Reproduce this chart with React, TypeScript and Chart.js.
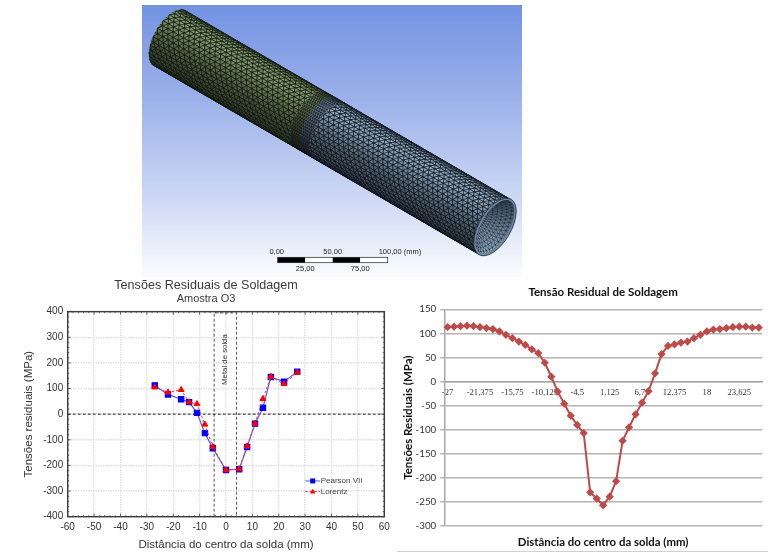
import React, { useEffect, useRef } from "react";
import { Chart, registerables } from "chart.js";

Chart.register(...registerables);

const leftTitle = "Tensões Residuais de Soldagem";
const leftSubtitle = "Amostra O3";
const leftXTitle = "Distância do centro da solda (mm)";
const leftYTitle = "Tensões residuais (MPa)";
const leftDistances = [-27, -22, -17, -14, -11, -8, -5, 0, 5, 8, 11, 14, 17, 22, 27];
const pearsonValues = [112, 77, 58, 47, 5, -74, -133, -218, -215, -128, -37, 25, 145, 127, 166];
const lorentzValues = [105, 85, 95, 47, 40, -40, -127, -218, -214, -125, -36, 60, 146, 118, 163];
const zeroLineX = [-60, 60];
const zeroLineY = [0, 0];
const metalBoxX = [-4.5, -4.5, 4, 4];
const metalBoxY = [-400, 395, 395, -400];
const metalLabel = "Metal de solda";

const rightTitle = "Tensão Residual de Soldagem";
const rightXTitle = "Distância do centro da solda (mm)";
const rightYTitle = "Tensões Residuais (MPa)";
const rightCategories = [
  "-27", "-25,875", "-24,75", "-23,625", "-22,5", "-21,375", "-20,25", "-19,125", "-18", "-16,875",
  "-15,75", "-14,625", "-13,5", "-12,375", "-11,25", "-10,125", "-9", "-7,875", "-6,75", "-5,625",
  "-4,5", "-3,375", "-2,25", "-1,125", "0", "1,125", "2,25", "3,375", "4,5", "5,625",
  "6,75", "7,875", "9", "10,125", "11,25", "12,375", "13,5", "14,625", "15,75", "16,875",
  "18", "19,125", "20,25", "21,375", "22,5", "23,625", "24,75", "25,875", "27",
];
const rightValues = [
  113, 114, 115, 116, 115, 113, 111, 109, 104, 97,
  90, 83, 76, 67, 59, 39, 10, -21, -46, -71,
  -90, -107, -230, -243, -257, -239, -207, -123, -95, -68,
  -44, -20, 17, 57, 74, 77, 81, 83, 90, 97,
  104, 108, 109, 111, 113, 114, 114, 112, 112,
];

const SANS = "'Liberation Sans', Arial, sans-serif";
const CAL = "Lato, 'Open Sans', sans-serif";

const leftDecor = {
  id: "leftDecor",
  afterDatasetsDraw(chart: any) {
    const { ctx, chartArea: a, scales } = chart;
    ctx.save();
    ctx.strokeStyle = "#3c3c3c";
    ctx.lineWidth = 1.4;
    ctx.strokeRect(a.left, a.top, a.right - a.left, a.bottom - a.top);
    ctx.lineWidth = 0.8;
    ctx.beginPath();
    for (let v = -60; v <= 60; v += 2) {
      const x = scales.x.getPixelForValue(v);
      const l = v % 10 === 0 ? 3 : 1.5;
      ctx.moveTo(x, a.bottom); ctx.lineTo(x, a.bottom - l);
      ctx.moveTo(x, a.top); ctx.lineTo(x, a.top + l);
    }
    for (let v = -400; v <= 400; v += 20) {
      const y = scales.y.getPixelForValue(v);
      const l = v % 100 === 0 ? 3 : 1.5;
      ctx.moveTo(a.left, y); ctx.lineTo(a.left + l, y);
      ctx.moveTo(a.right, y); ctx.lineTo(a.right - l, y);
    }
    ctx.stroke();

    ctx.fillStyle = "#333";
    ctx.font = `7.8px ${SANS}`;
    ctx.textAlign = "center";
    ctx.textBaseline = "middle";
    ctx.translate(scales.x.getPixelForValue(-0.3), scales.y.getPixelForValue(213));
    ctx.rotate(-Math.PI / 2);
    ctx.fillText(metalLabel, 0, 0);
    ctx.restore();

    ctx.save();
    const lx = a.left + 237.5;
    const rows = [
      { i: 1, y: a.top + 169.3 },
      { i: 0, y: a.top + 179.8 },
    ];
    for (const r of rows) {
      const ds = chart.data.datasets[r.i];
      ctx.strokeStyle = ds.borderColor;
      ctx.lineWidth = 1;
      ctx.setLineDash(ds.borderDash || []);
      ctx.beginPath();
      ctx.moveTo(lx, r.y);
      ctx.lineTo(lx + 15, r.y);
      ctx.stroke();
      ctx.setLineDash([]);
      ctx.fillStyle = ds.pointBackgroundColor;
      ctx.beginPath();
      if (ds.pointStyle === "rect") {
        ctx.rect(lx + 5, r.y - 2.5, 5, 5);
      } else {
        ctx.moveTo(lx + 7.5, r.y - 2.6);
        ctx.lineTo(lx + 10.2, r.y + 2);
        ctx.lineTo(lx + 4.8, r.y + 2);
        ctx.closePath();
      }
      ctx.fill();
      ctx.fillStyle = "#444";
      ctx.font = `8px ${SANS}`;
      ctx.textAlign = "left";
      ctx.textBaseline = "middle";
      ctx.fillText(ds.label, lx + 15.5, r.y);
    }
    ctx.restore();
  },
};

function drawMesh(canvas: HTMLCanvasElement) {
  const ctx = canvas.getContext("2d")!;
  const W = canvas.width;
  const H = canvas.height;
  const ox = 142;
  const oy = 5;
  const bg = ctx.createLinearGradient(0, 0, 0, H);
  bg.addColorStop(0, "#7292e2");
  bg.addColorStop(0.35, "#9db2ea");
  bg.addColorStop(0.7, "#ccd7f4");
  bg.addColorStop(1, "#fbfcfe");
  ctx.fillStyle = bg;
  ctx.fillRect(0, 0, W, H);

  const c0 = { x: 170 - ox, y: 38.3 - oy };
  const c1 = { x: 495 - ox, y: 227 - oy };
  const dx = c1.x - c0.x;
  const dy = c1.y - c0.y;
  const L = Math.hypot(dx, dy);
  const a = { x: dx / L, y: dy / L };
  const n = { x: a.y, y: -a.x };
  const R = 32;
  const m = 16;
  const P = (u: number, th: number) => ({
    x: c0.x + dx * u + n.x * R * Math.cos(th) - a.x * m * Math.sin(th),
    y: c0.y + dy * u + n.y * R * Math.cos(th) - a.y * m * Math.sin(th),
  });
  const shade = (th: number, base: number[]) => {
    const t = th / Math.PI;
    const s = 0.38 + 0.58 * Math.exp(-Math.pow((t - 0.25) / 0.3, 2));
    return `rgb(${base.map((b) => Math.round(Math.min(255, b * s))).join(",")})`;
  };
  const green = [140, 166, 116];
  const blue = [156, 184, 208];
  const junction = 0.465;
  const drawBand = (u0: number, u1: number, nu: number, nth: number, base: number[], line: string, lw: number) => {
    ctx.save();
    ctx.beginPath();
    for (let k = 0; k <= 40; k++) {
      const p = P(u0, (k / 40) * Math.PI);
      if (k === 0) ctx.moveTo(p.x, p.y); else ctx.lineTo(p.x, p.y);
    }
    for (let k = 40; k >= 0; k--) {
      const p = P(u1, (k / 40) * Math.PI);
      ctx.lineTo(p.x, p.y);
    }
    ctx.closePath();
    ctx.clip();
    const du = (u1 - u0) / nu;
    const dth = Math.PI / nth;
    ctx.strokeStyle = line;
    ctx.lineWidth = lw;
    for (let i = -1; i <= nu; i++) {
      for (let j = 0; j < nth; j++) {
        const sA = j % 2 === 0 ? 0 : du / 2;
        const sB = j % 2 === 0 ? du / 2 : 0;
        const th0 = j * dth;
        const th1 = (j + 1) * dth;
        const ua = u0 + i * du;
        const p00 = P(ua + sA, th0);
        const p10 = P(ua + du + sA, th0);
        const p01 = P(ua + sB, th1);
        const p11 = P(ua + du + sB, th1);
        ctx.fillStyle = shade((th0 + th1) / 2, base);
        ctx.beginPath();
        ctx.moveTo(p00.x, p00.y);
        ctx.lineTo(p10.x, p10.y);
        ctx.lineTo(p11.x, p11.y);
        ctx.lineTo(p01.x, p01.y);
        ctx.closePath();
        ctx.fill();
        ctx.stroke();
        const from = j % 2 === 0 ? p10 : p00;
        const to = j % 2 === 0 ? p01 : p11;
        ctx.beginPath();
        ctx.moveTo(from.x, from.y);
        ctx.lineTo(to.x, to.y);
        ctx.stroke();
      }
    }
    ctx.restore();
  };

  drawBand(0, junction - 0.03, 27, 21, green, "rgba(12,18,10,0.88)", 0.8);
  drawBand(junction + 0.03, 1, 33, 21, blue, "rgba(8,14,22,0.88)", 0.8);
  drawBand(junction - 0.03, junction, 5, 34, green, "rgba(12,16,10,0.85)", 0.6);
  drawBand(junction, junction + 0.03, 5, 34, blue, "rgba(8,12,18,0.85)", 0.6);

  // open end of the tube
  const rot = Math.atan2(n.y, n.x);
  ctx.fillStyle = "#6e8aa3";
  ctx.beginPath();
  ctx.ellipse(c1.x, c1.y, R, m, rot, 0, Math.PI * 2);
  ctx.fill();
  ctx.save();
  ctx.beginPath();
  ctx.ellipse(c1.x, c1.y, R - 2, m - 2, rot, 0, Math.PI * 2);
  ctx.clip();
  const ig = ctx.createLinearGradient(c1.x + n.x * R, c1.y + n.y * R, c1.x - n.x * R, c1.y - n.y * R);
  ig.addColorStop(0, "#3c4f60");
  ig.addColorStop(1, "#9db8d0");
  ctx.fillStyle = ig;
  ctx.fillRect(0, 0, W, H);
  ctx.strokeStyle = "rgba(12,18,28,0.75)";
  ctx.lineWidth = 0.55;
  const rings = 8;
  const spokes = 40;
  const inner = (k: number, s: number) => {
    const th = (s / spokes) * Math.PI * 2;
    const f = 1 - k * 0.09;
    const shift = k * 3.2;
    return {
      x: c1.x + n.x * R * f * Math.cos(th) - a.x * m * f * Math.sin(th) - a.x * shift,
      y: c1.y + n.y * R * f * Math.cos(th) - a.y * m * f * Math.sin(th) - a.y * shift,
    };
  };
  for (let k = 0; k < rings; k++) {
    for (let s = 0; s < spokes; s++) {
      const q = k % 2 === 0 ? s : s + 0.5;
      const p1 = inner(k, q);
      const p2 = inner(k, q + 1);
      const p3 = inner(k + 1, q + 0.5);
      ctx.beginPath();
      ctx.moveTo(p1.x, p1.y);
      ctx.lineTo(p2.x, p2.y);
      ctx.lineTo(p3.x, p3.y);
      ctx.closePath();
      ctx.stroke();
    }
  }
  ctx.restore();
  ctx.strokeStyle = "rgba(20,30,44,0.85)";
  ctx.lineWidth = 0.9;
  ctx.beginPath();
  ctx.ellipse(c1.x, c1.y, R, m, rot, 0, Math.PI * 2);
  ctx.stroke();

  // scale bar
  const bx = 277.7 - ox;
  const by = 257.3 - oy;
  const seg = 27.5;
  for (let i = 0; i < 4; i++) {
    ctx.fillStyle = i % 2 === 0 ? "#000" : "#fff";
    ctx.fillRect(bx + i * seg, by, seg, 5.4);
  }
  ctx.strokeStyle = "#222";
  ctx.lineWidth = 0.7;
  ctx.strokeRect(bx, by, seg * 4, 5.4);
  ctx.fillStyle = "#222";
  ctx.font = `7.5px ${SANS}`;
  ctx.textBaseline = "middle";
  ctx.textAlign = "center";
  ctx.fillText("0,00", bx - 1, by - 5);
  ctx.fillText("50,00", bx + seg * 2, by - 5);
  ctx.fillText("25,00", bx + seg, by + 12);
  ctx.fillText("75,00", bx + seg * 3, by + 12);
  ctx.textAlign = "left";
  ctx.fillText("100,00 (mm)", bx + seg * 4 - 9, by - 5);
}

export default function App() {
  const meshRef = useRef<HTMLCanvasElement>(null);
  const leftRef = useRef<HTMLCanvasElement>(null);
  const rightRef = useRef<HTMLCanvasElement>(null);

  useEffect(() => {
    drawMesh(meshRef.current!);

    const left = new Chart(leftRef.current!, {
      type: "line",
      data: {
        datasets: [
          {
            label: "Lorentz",
            data: leftDistances.map((x, i) => ({ x, y: lorentzValues[i] })),
            borderColor: "#ff3030",
            borderWidth: 1,
            borderDash: [2.5, 2],
            pointStyle: "triangle",
            pointRadius: 3.4,
            pointBackgroundColor: "#ff0000",
            pointBorderColor: "#ff0000",
            tension: 0,
            order: 0,
          },
          {
            label: "Pearson VII",
            data: leftDistances.map((x, i) => ({ x, y: pearsonValues[i] })),
            borderColor: "#5a5aff",
            borderWidth: 1.2,
            pointStyle: "rect",
            pointRadius: 3.7,
            pointBackgroundColor: "#0000ff",
            pointBorderColor: "#0000ff",
            tension: 0,
            order: 1,
          },
          {
            label: "zero",
            data: zeroLineX.map((x, i) => ({ x, y: zeroLineY[i] })),
            borderColor: "#222",
            borderWidth: 1,
            borderDash: [3, 2],
            pointRadius: 0,
            order: 2,
          },
          {
            label: "metal",
            data: metalBoxX.map((x, i) => ({ x, y: metalBoxY[i] })),
            borderColor: "#555",
            borderWidth: 1,
            borderDash: [3, 2],
            pointRadius: 0,
            tension: 0,
            order: 3,
          },
        ],
      },
      options: {
        animation: false,
        responsive: false,
        layout: { padding: 0 },
        plugins: {
          legend: { display: false },
          tooltip: { enabled: false },
          title: {
            display: true,
            text: leftTitle,
            color: "#3a3a3a",
            font: { family: SANS, size: 12.6, weight: "normal", lineHeight: 1.15 },
            padding: { top: 8, bottom: 0 },
          },
          subtitle: {
            display: true,
            text: leftSubtitle,
            color: "#3a3a3a",
            font: { family: SANS, size: 11, weight: "normal", lineHeight: 1.15 },
            padding: { top: 0, bottom: 6.5 },
          },
        },
        scales: {
          x: {
            type: "linear",
            min: -60,
            max: 60,
            afterFit: (s: any) => { s.height = 43.3; },
            ticks: { stepSize: 10, color: "#333", font: { family: SANS, size: 10 }, padding: 4.5, maxRotation: 0, autoSkip: false },
            grid: { color: "#e0e0e0", lineWidth: 1.4, tickLength: 0 },
            border: { dash: [1.5, 1], display: false },
            title: { display: true, text: leftXTitle, color: "#333", font: { family: SANS, size: 11.5 }, padding: { top: 0, bottom: 8 } },
          },
          y: {
            type: "linear",
            min: -400,
            max: 400,
            afterFit: (s: any) => { s.width = 67.7; },
            ticks: { stepSize: 100, color: "#333", font: { family: SANS, size: 10 }, padding: 4.5 },
            grid: { color: "#e0e0e0", lineWidth: 1.4, tickLength: 0 },
            border: { dash: [1.5, 1], display: false },
            title: { display: true, text: leftYTitle, color: "#333", font: { family: SANS, size: 11.5 }, padding: { top: 22, bottom: 0 } },
          },
          rightGap: {
            type: "linear",
            position: "right",
            display: true,
            afterFit: (s: any) => { s.width = 27.7; },
            ticks: { display: false },
            grid: { display: false },
            border: { display: false },
          },
        },
      } as any,
      plugins: [leftDecor],
    });

    const right = new Chart(rightRef.current!, {
      type: "line",
      data: {
        labels: rightCategories,
        datasets: [
          {
            label: "Tensão",
            data: rightValues,
            borderColor: "#be4b48",
            borderWidth: 2,
            pointStyle: "rectRot",
            pointRadius: 2.7,
            pointBackgroundColor: "#be4b48",
            pointBorderColor: "#be4b48",
            tension: 0,
          },
        ],
      },
      options: {
        animation: false,
        responsive: false,
        layout: { padding: 0 },
        plugins: {
          legend: { display: false },
          tooltip: { enabled: false },
          title: {
            display: true,
            fullSize: false,
            text: rightTitle,
            color: "#111",
            font: { family: CAL, size: 11.5, weight: "bold", lineHeight: 1.2 },
            padding: { top: 15, bottom: 10.5 },
          },
          subtitle: {
            display: true,
            fullSize: false,
            position: "bottom",
            text: rightXTitle,
            color: "#111",
            font: { family: CAL, size: 11.4, weight: "bold", lineHeight: 1.2 },
            padding: { top: 9.4, bottom: 10.9 },
          },
        },
        scales: {
          x: {
            type: "category",
            offset: true,
            position: { y: 0 },
            ticks: {
              autoSkip: false,
              maxRotation: 0,
              minRotation: 0,
              color: "#333",
              padding: 6,
              font: { family: "'Liberation Serif', serif", size: 8.6 },
              callback: (_v: any, i: number) => (i % 5 === 0 ? rightCategories[i] : ""),
            },
            grid: { display: false, drawTicks: false, tickLength: 0 },
            border: { color: "#a8a8a8", width: 1.5 },
          },
          y: {
            min: -300,
            max: 150,
            afterFit: (s: any) => { s.width = 49.3; },
            ticks: { stepSize: 50, color: "#333", font: { family: CAL, size: 9.8 }, padding: 4 },
            grid: { color: "#b4b4b4", lineWidth: 1.5, tickLength: 4 },
            border: { color: "#a8a8a8", width: 1.5 },
            title: { display: true, text: rightYTitle, color: "#111", font: { family: CAL, size: 11.5, weight: "bold" }, padding: { top: 6, bottom: 0 } },
          },
        },
      } as any,
    });

    return () => {
      left.destroy();
      right.destroy();
    };
  }, []);

  return (
    <div style={{ position: "fixed", left: 0, top: 0, width: 768, height: 560, background: "#fff", overflow: "hidden" }}>
      <canvas ref={meshRef} width={380} height={272} style={{ position: "absolute", left: 142, top: 5, filter: "blur(0.4px)" }} />
      <canvas ref={leftRef} width={412} height={290} style={{ position: "absolute", left: 0, top: 270, filter: "blur(0.3px)" }} />
      <div style={{ position: "absolute", left: 397, top: 551, width: 371, height: 1, background: "#d0d0d0" }} />
      <canvas ref={rightRef} width={373} height={290} style={{ position: "absolute", left: 395, top: 270, filter: "blur(0.3px)" }} />
    </div>
  );
}
